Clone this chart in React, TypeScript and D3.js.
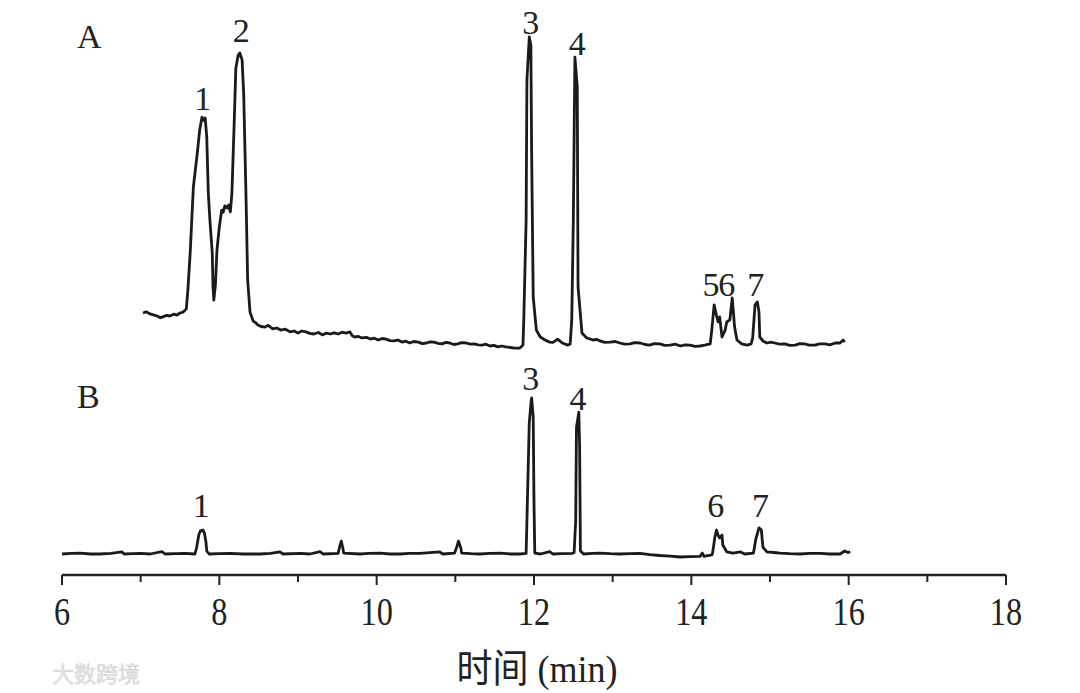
import React from "react";
import * as d3 from "d3";

// Chromatogram A: [time (min), signal]
const traceA: [number, number][] = [
  [7.03, 11.0], [7.07, 11.4], [7.12, 10.7], [7.16, 10.4], [7.21, 10.0], [7.25, 9.4], [7.28, 9.7],
  [7.33, 10.2], [7.37, 10.0], [7.42, 10.6], [7.46, 10.3], [7.50, 11.0], [7.54, 11.3], [7.58, 12.3],
  [7.60, 18.7], [7.63, 31.3], [7.67, 53.0], [7.72, 64.3], [7.75, 72.0], [7.78, 76.3], [7.80, 75.2],
  [7.82, 76.0], [7.84, 69.7], [7.86, 51.0], [7.88, 42.0], [7.91, 31.0], [7.92, 19.7], [7.93, 15.3],
  [7.95, 20.3], [7.97, 32.0], [8.00, 39.7], [8.03, 45.3], [8.05, 44.6], [8.07, 46.7], [8.10, 46.0],
  [8.12, 47.0], [8.14, 44.7], [8.16, 51.0], [8.19, 75.3], [8.21, 92.7], [8.24, 97.0], [8.26, 97.7],
  [8.29, 95.3], [8.31, 83.7], [8.34, 48.7], [8.36, 22.0], [8.39, 11.3], [8.43, 8.3], [8.46, 7.8],
  [8.49, 7.0], [8.53, 6.5], [8.58, 6.3], [8.62, 6.9], [8.68, 5.7], [8.73, 6.0], [8.78, 5.3],
  [8.84, 5.6], [8.90, 4.7], [8.95, 5.0], [9.00, 4.3], [9.05, 5.0], [9.10, 4.7], [9.15, 4.2],
  [9.20, 4.0], [9.26, 4.5], [9.31, 3.7], [9.36, 4.3], [9.41, 4.0], [9.46, 4.4], [9.51, 4.0],
  [9.56, 4.6], [9.61, 4.3], [9.66, 4.7], [9.69, 3.4], [9.72, 3.0], [9.77, 3.2], [9.81, 2.7],
  [9.87, 2.9], [9.92, 2.3], [9.97, 2.6], [10.02, 2.0], [10.07, 2.5], [10.12, 2.3], [10.17, 1.8],
  [10.22, 1.7], [10.27, 2.0], [10.32, 1.3], [10.37, 1.6], [10.42, 1.0], [10.47, 1.5], [10.53, 1.3],
  [10.58, 0.8], [10.63, 1.0], [10.68, 1.4], [10.73, 1.3], [10.78, 0.9], [10.83, 0.7], [10.88, 1.2],
  [10.93, 1.0], [10.98, 0.5], [11.03, 0.7], [11.08, 1.1], [11.14, 1.0], [11.19, 0.6], [11.24, 0.7],
  [11.29, 0.4], [11.34, 0.3], [11.39, 0.6], [11.44, 0.0], [11.49, 0.2], [11.54, -0.3], [11.59, 0.0],
  [11.64, -0.3], [11.70, -0.5], [11.75, -0.7], [11.82, -0.7], [11.86, 0.3], [11.87, 8.7],
  [11.90, 42.0], [11.91, 88.7], [11.94, 103.0], [11.96, 100.3], [11.97, 64.3], [11.99, 16.3],
  [12.03, 5.3], [12.08, 3.0], [12.14, 2.0], [12.20, 1.3], [12.24, 1.2], [12.27, 1.7], [12.30, 2.3],
  [12.36, 1.0], [12.43, 0.3], [12.46, 0.7], [12.48, 8.7], [12.50, 42.0], [12.52, 96.3],
  [12.55, 86.3], [12.56, 19.7], [12.61, 4.3], [12.67, 2.7], [12.75, 2.0], [12.80, 2.2], [12.84, 1.7],
  [12.90, 1.2], [12.97, 1.3], [13.03, 1.5], [13.09, 1.0], [13.15, 0.6], [13.22, 0.7], [13.28, 1.1],
  [13.35, 1.0], [13.41, 0.5], [13.47, 0.3], [13.53, 0.8], [13.60, 0.7], [13.66, 0.2], [13.73, 0.3],
  [13.80, 0.6], [13.86, 0.0], [13.92, 0.4], [13.98, 0.3], [14.05, -0.1], [14.11, 0.0], [14.17, 0.3],
  [14.24, 0.7], [14.26, 5.3], [14.29, 13.7], [14.31, 11.3], [14.34, 8.0], [14.36, 9.7], [14.39, 3.0],
  [14.43, 5.3], [14.45, 8.0], [14.49, 8.7], [14.52, 16.0], [14.55, 6.3], [14.58, 2.0], [14.64, 0.7],
  [14.71, 0.3], [14.76, 0.7], [14.78, 2.7], [14.81, 13.7], [14.84, 14.7], [14.86, 11.3], [14.87, 3.0],
  [14.91, 1.7], [14.96, 1.0], [15.01, 1.3], [15.06, 1.0], [15.12, 0.6], [15.19, 0.7], [15.25, 0.2],
  [15.32, 0.3], [15.38, 0.8], [15.44, 0.7], [15.50, 0.3], [15.57, 0.3], [15.63, 0.7], [15.70, 0.7],
  [15.76, 0.4], [15.83, 1.0], [15.89, 1.0], [15.93, 2.0], [15.95, 1.3],
];

// Chromatogram B: [time (min), signal]
const traceB: [number, number][] = [
  [6.0, 0.0], [6.12, 0.2], [6.23, 0.3], [6.36, 0.0], [6.48, 0.0], [6.62, 0.2], [6.76, 0.7], [6.79, 0.0],
  [6.9, 0.1], [6.99, 0.2], [7.12, 0.0], [7.27, 0.8], [7.31, 0.0], [7.45, 0.1], [7.56, 0.2], [7.69, 0.0],
  [7.71, 2.0], [7.74, 6.5], [7.76, 7.7], [7.79, 8.0], [7.81, 7.0], [7.83, 4.0], [7.84, 1.0], [7.87, 0.0],
  [8.0, 0.1], [8.14, 0.2], [8.3, 0.0], [8.52, 0.0], [8.65, 0.2], [8.77, 0.7], [8.81, 0.0], [9.03, 0.2],
  [9.15, 0.0], [9.28, 0.8], [9.32, 0.0], [9.51, 0.2], [9.53, 2.5], [9.55, 4.3], [9.57, 2.0], [9.58, 0.3],
  [9.79, 0.0], [9.9, 0.2], [10.04, 0.3], [10.17, 0.0], [10.3, 0.0], [10.42, 0.2], [10.55, 0.2],
  [10.8, 0.7], [10.84, 0.0], [10.99, 0.3], [11.02, 2.5], [11.04, 4.3], [11.07, 2.0], [11.08, 0.3],
  [11.2, 0.1], [11.31, 0.0], [11.44, 0.2], [11.57, 0.3], [11.7, 0.0], [11.82, 0.0], [11.9, 0.2],
  [11.91, 11.0], [11.94, 43.7], [11.96, 50.0], [11.97, 52.0], [11.99, 45.7], [12.0, 17.0], [12.01, 0.3],
  [12.08, 0.0], [12.2, 0.8], [12.24, 0.0], [12.36, 0.1], [12.49, 0.2], [12.51, 0.5], [12.53, 11.0],
  [12.54, 42.3], [12.57, 47.3], [12.58, 35.7], [12.59, 1.0], [12.63, 0.0], [12.74, 0.2], [12.84, 0.3],
  [12.97, 0.1], [13.09, 0.0], [13.22, 0.1], [13.35, 0.2], [13.47, -0.2], [13.6, -0.5], [13.73, -0.7],
  [13.86, -1.0], [13.98, -0.9], [14.11, -0.8], [14.14, 0.3], [14.16, -0.8], [14.26, -0.3], [14.27, 0.3],
  [14.3, 5.7], [14.32, 8.0], [14.34, 6.3], [14.36, 5.3], [14.39, 6.3], [14.4, 3.0], [14.45, 0.7],
  [14.53, 0.3], [14.62, 0.7], [14.68, 0.0], [14.79, 0.3], [14.82, 5.0], [14.86, 8.7], [14.89, 8.0],
  [14.91, 2.3], [14.96, 0.7], [15.05, 0.5], [15.13, 0.3], [15.25, 0.1], [15.38, 0.0], [15.51, 0.2],
  [15.64, 0.2], [15.76, 0.0], [15.89, 0.0], [15.95, 1.0], [15.99, 0.5], [16.02, 0.7],
];

// Peak labels: [label, time, signal level of label baseline]
const labelsA: [string, number, number][] = [
  ["1", 7.79, 78.7], ["2", 8.28, 101.3], ["3", 11.96, 104.0], ["4", 12.55, 97.0],
  ["5", 14.25, 16.7], ["6", 14.45, 16.7], ["7", 14.82, 16.7],
];
const labelsB: [string, number, number][] = [
  ["1", 7.77, 12.3], ["3", 11.96, 54.7], ["4", 12.56, 48.0], ["6", 14.31, 12.3], ["7", 14.88, 12.3],
];

const majorTicks = [6, 8, 10, 12, 14, 16, 18];
const minorTicks = [7, 9, 11, 13, 15, 17];
const xTitle = "时间 (min)";
const panelA = "A";
const panelB = "B";
const watermark = "大数跨境";

const W = 1080;
const H = 693;

export default function App() {
  const x = d3.scaleLinear().domain([6, 18]).range([62, 1006]);
  const yA = d3.scaleLinear().domain([0, 100]).range([346, 46]);
  const yB = d3.scaleLinear().domain([0, 100]).range([554, 254]);
  const axisY = 575;

  const lineA = d3.line<[number, number]>().x((d) => x(d[0])).y((d) => yA(d[1]));
  const lineB = d3.line<[number, number]>().x((d) => x(d[0])).y((d) => yB(d[1]));

  const serif = "'Liberation Serif', 'Times New Roman', serif";

  return (
    <svg
      width={W}
      height={H}
      viewBox={`0 0 ${W} ${H}`}
      style={{ position: "absolute", left: 0, top: 0, background: "#fff" }}
    >
      <rect x={0} y={0} width={W} height={H} fill="#fff" />
      <path d={lineA(traceA) || ""} fill="none" stroke="#1a1a1a" strokeWidth={2.8} strokeLinejoin="round" />
      <path d={lineB(traceB) || ""} fill="none" stroke="#1a1a1a" strokeWidth={2.8} strokeLinejoin="round" />

      {labelsA.map(([l, t, v], i) => (
        <text key={"la" + i} x={x(t)} y={yA(v)} textAnchor="middle" fontFamily={serif} fontSize={34} fill="#222">
          {l}
        </text>
      ))}
      {labelsB.map(([l, t, v], i) => (
        <text key={"lb" + i} x={x(t)} y={yB(v)} textAnchor="middle" fontFamily={serif} fontSize={34} fill="#222">
          {l}
        </text>
      ))}

      <text x={77} y={48} fontFamily={serif} fontSize={34} fill="#222">{panelA}</text>
      <text x={77} y={408} fontFamily={serif} fontSize={34} fill="#222">{panelB}</text>

      {/* x axis */}
      <line x1={x(6)} x2={x(18)} y1={axisY} y2={axisY} stroke="#222" strokeWidth={2.4} />
      {majorTicks.map((t) => (
        <line key={"M" + t} x1={x(t)} x2={x(t)} y1={axisY} y2={axisY + 10} stroke="#222" strokeWidth={2} />
      ))}
      {minorTicks.map((t) => (
        <line key={"m" + t} x1={x(t)} x2={x(t)} y1={axisY} y2={axisY + 7} stroke="#222" strokeWidth={2} />
      ))}
      {majorTicks.map((t) => (
        <text key={"t" + t} transform={`translate(${x(t)},625) scale(0.95,1.18)`} textAnchor="middle" fontFamily={serif} fontSize={34} fill="#222">
          {t}
        </text>
      ))}
      <text
        transform="translate(537,682) scale(1,1.08)"
        textAnchor="middle"
        fontFamily="'Liberation Serif', 'Noto Sans CJK SC', serif"
        fontSize={36}
        fill="#222"
      >
        {xTitle}
      </text>

      <text x={52} y={682} fontFamily="'Noto Sans CJK SC', sans-serif" fontSize={22} fill="#e6e6e6" stroke="#d4d4d4" strokeWidth={0.6}>
        {watermark}
      </text>
    </svg>
  );
}
